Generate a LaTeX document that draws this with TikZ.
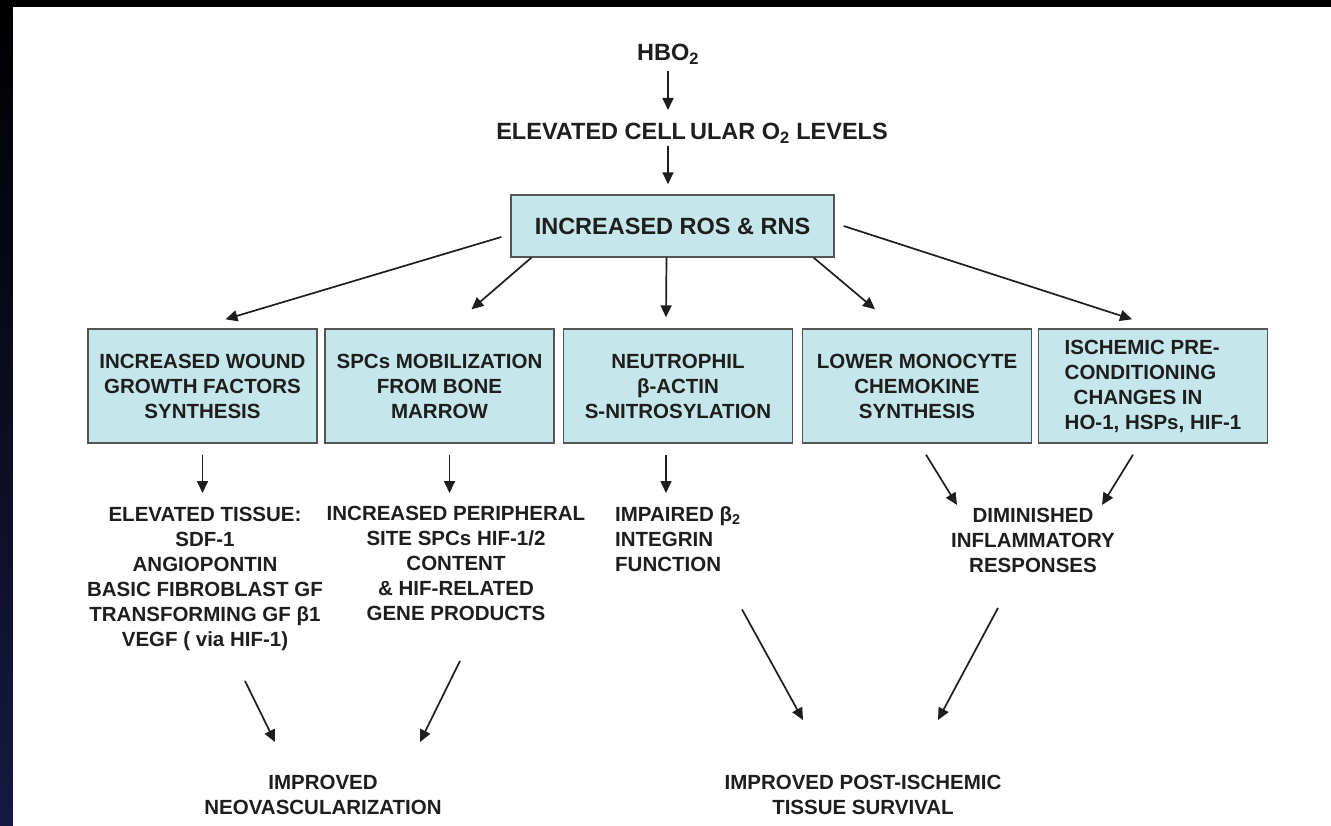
\documentclass[tikz,border=0pt]{standalone}
\usepackage{fontspec}
\setmainfont{Liberation Sans}
\usetikzlibrary{arrows.meta}
\definecolor{boxfill}{RGB}{197,230,234}
\definecolor{boxline}{RGB}{85,85,85}
\definecolor{inkgray}{RGB}{30,30,30}
\definecolor{navyedge}{RGB}{24,24,66}

\begin{document}
\begin{tikzpicture}[x=1pt,y=-1pt,
    arr/.style={-{Triangle[length=12pt,width=11pt]}, line width=1.7pt, draw=inkgray},
    txt/.style={inner sep=0pt, align=center, text=inkgray, font=\bfseries\fontsize{20.5}{25}\selectfont},
    toptxt/.style={txt, font=\bfseries\fontsize{23.5}{28}\selectfont},
    effect/.style={txt, draw=boxline, fill=boxfill, line width=1.4pt, minimum width=229pt, minimum height=114pt}]
    % frame
    \fill[black] (0,0) rectangle (1331,826);
    \shade[top color=black, bottom color=navyedge] (0,0) rectangle (13,826);
    \fill[white] (13,7) rectangle (1331,826);
    \useasboundingbox (0,0) rectangle (1331,826);

    \node[toptxt, anchor=north] (hbo) at (668,44) {HBO\textsubscript{2}};
    \node[toptxt, anchor=north] (cellox) at (692,123) {ELEVATED CELL\hspace{4pt}ULAR O\textsubscript{2} LEVELS};
    \node[effect, toptxt, minimum width=323pt, minimum height=62pt] (ros) at (672.5,226) {INCREASED ROS \& RNS};

    % row of boxes
    \node[effect] (wound) at (202.5,386) {INCREASED WOUND\\GROWTH FACTORS\\SYNTHESIS};
    \node[effect] (spc) at (439.5,386) {SPCs MOBILIZATION\\FROM BONE\\MARROW};
    \node[effect] (neutro) at (678,386) {NEUTROPHIL\\β-ACTIN\\S-NITROSYLATION};
    \node[effect] (mono) at (917,386) {LOWER MONOCYTE\\CHEMOKINE\\SYNTHESIS};
    \node[effect, align=left] (ischem) at (1153,386) {ISCHEMIC PRE-\\CONDITIONING\\\hspace{9pt}CHANGES IN\\HO-1, HSPs, HIF-1};

    % consequences
    \node[txt, anchor=north] (tissue) at (205,507) {ELEVATED TISSUE:\\SDF-1\\ANGIOPONTIN\\BASIC FIBROBLAST GF\\TRANSFORMING GF β1\\VEGF ( via HIF-1)};
    \node[txt, anchor=north] (periph) at (456,506) {INCREASED PERIPHERAL\\SITE SPCs HIF-1/2\\CONTENT\\\& HIF-RELATED\\GENE PRODUCTS};
    \node[txt, anchor=north west, align=left] (integrin) at (615,506) {IMPAIRED β\textsubscript{2}\\INTEGRIN\\FUNCTION};
    \node[txt, anchor=north] (inflam) at (1033,508) {DIMINISHED\\INFLAMMATORY\\RESPONSES};
    \node[txt, anchor=north] (neovasc) at (323,775) {IMPROVED\\NEOVASCULARIZATION};
    \node[txt, anchor=north] (survival) at (863,775) {IMPROVED POST-ISCHEMIC\\TISSUE SURVIVAL};

    \draw[arr] ([yshift=-6pt]hbo.south) -- ([yshift=13pt]hbo.south |- cellox.north);
    \draw[arr] ([yshift=-2pt]hbo.south |- cellox.south) -- ([yshift=10pt]hbo.south |- ros.north);

    \draw[arr] ([xshift=-9pt,yshift=-11pt]ros.west) -- ([xshift=23pt,yshift=9pt]wound.north);
    \draw[arr] ([xshift=21pt]ros.south west) -- ([xshift=32pt,yshift=19pt]spc.north);
    \draw[arr] ([xshift=-6pt]ros.south) -- ([xshift=-12pt,yshift=11pt]neutro.north);
    \draw[arr] ([xshift=-21pt]ros.south east) -- ([xshift=-42pt,yshift=19pt]mono.north);
    \draw[arr] ([xshift=9pt]ros.east) -- ([xshift=-21pt,yshift=9pt]ischem.north);

    \draw[arr] ([yshift=-11pt]wound.south) -- ([yshift=14pt]wound.south |- tissue.north);
    \draw[arr] ([xshift=10pt,yshift=-11pt]spc.south) -- ([xshift=10pt,yshift=13pt]spc.south |- periph.north);
    \draw[arr] ([xshift=-12pt,yshift=-11pt]neutro.south) -- ([xshift=-12pt,yshift=13pt]neutro.south |- integrin.north);
    \draw[arr] ([xshift=9pt,yshift=-11pt]mono.south) -- ([xshift=-76pt,yshift=3pt]inflam.north);
    \draw[arr] ([xshift=-20pt,yshift=-11pt]ischem.south) -- ([xshift=69pt,yshift=3pt]inflam.north);

    % towards the outcomes
    \draw[arr] ([xshift=40pt,yshift=-30pt]tissue.south) -- ([xshift=-48pt,yshift=33pt]neovasc.north);
    \draw[arr] ([xshift=4pt,yshift=-40pt]periph.south) -- ([xshift=97pt,yshift=33pt]neovasc.north);
    \draw[arr] ([xshift=127pt,yshift=-38pt]integrin.south west) -- ([xshift=-60pt,yshift=55pt]survival.north);
    \draw[arr] ([xshift=-35pt,yshift=-35pt]inflam.south) -- ([xshift=75pt,yshift=55pt]survival.north);
\end{tikzpicture}
\end{document}
